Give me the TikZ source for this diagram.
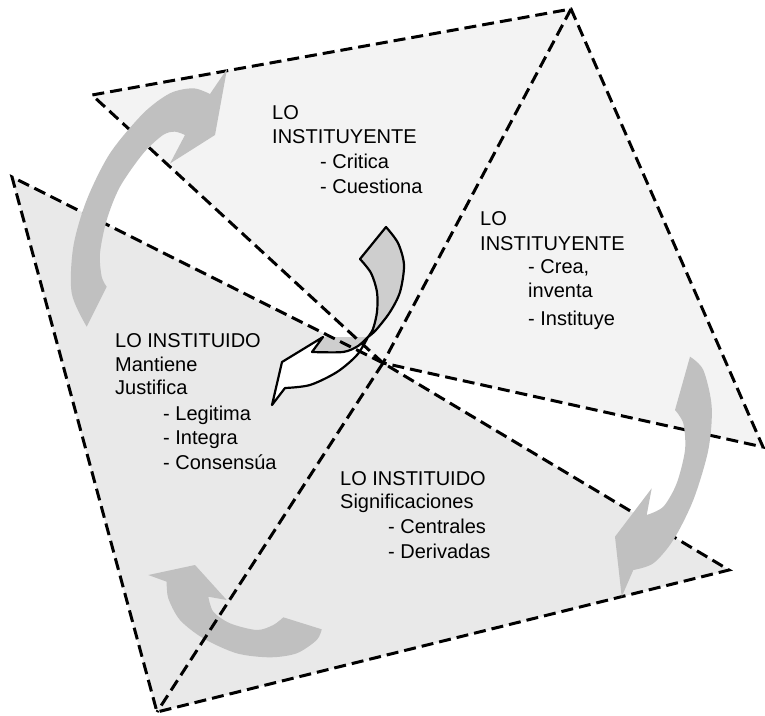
\documentclass[tikz,border=0pt]{standalone}
\usepackage{fontspec}
\setmainfont{Liberation Sans}
\definecolor{lightA}{RGB}{243,243,243}
\definecolor{lightC}{RGB}{233,233,233}
\definecolor{arrowgray}{RGB}{192,192,192}
\definecolor{cgray}{RGB}{206,206,206}
\begin{document}
\begin{tikzpicture}[x=1pt,y=-1pt,
  edge/.style={line width=3pt, dash pattern=on 12pt off 6pt},
  lbl/.style={anchor=base west, inner sep=0pt, font=\fontsize{20}{24}\selectfont},
  bigarrow/.style={fill=arrowgray},
  outl/.style={draw=black, line width=2.2pt, line join=round}
]
\useasboundingbox (0,0) rectangle (765,715);
% vertices
\coordinate (O) at (383,363);
\coordinate (A1) at (92,95);
\coordinate (Ap) at (571,9);
\coordinate (B1) at (763,447);
\coordinate (C1) at (12,177);
\coordinate (Db) at (157,712);
\coordinate (D1) at (729,570);
% fills
\fill[lightA] (A1) -- (Ap) -- (O) -- cycle;
\fill[lightA] (Ap) -- (B1) -- (O) -- cycle;
\fill[lightC] (C1) -- (O) -- (Db) -- cycle;
\fill[lightC] (O) -- (D1) -- (Db) -- cycle;
% bottom-left curved arrow (under the lines)
\fill[bigarrow] (148.3,575) -- (195,565) -- (226.7,600) -- (208.3,596.7)
  -- plot[smooth] coordinates {(208.3,596.7)(213.3,611.7)(230,623.3)(256.7,630)(273.3,625)(283.3,617.3)}
  -- (321.7,629.3)
  -- plot[smooth] coordinates {(321.7,629.3)(316.7,640)(296.7,653.3)(270,657.3)(236.7,653.3)(203.3,638.3)(180,620)(168.3,598.3)(166.7,581.7)}
  -- cycle;
% central arrow
\fill[cgray] (323,337) -- (312,352) -- (343,352) -- (360,345) -- (368,337) -- cycle;
\path[fill=cgray, outl] (386,227)
  -- plot[smooth] coordinates {(386,227)(398,243)(404,265)(400,292)(390,312)(376,330)(368,337)}
  -- plot[smooth] coordinates {(368,337)(373,329)(377,312)(377,292)(371,273)(360,259)}
  -- cycle;
\path[fill=white, outl] (282,362) -- (323,337) -- (312,352)
  -- plot[smooth] coordinates {(312,352)(343,352)(358,346)(368,337)}
  -- plot[smooth] coordinates {(368,337)(357,355)(337,372)(310,385)(285,388)}
  -- (272,405) -- cycle;
% dashed edges
\draw[edge] (O) -- (A1) -- (Ap) -- (B1) -- (O);
\draw[edge] (Ap) -- (O);
\draw[edge] (O) -- (C1) -- (Db) -- (D1) -- (O);
\draw[edge] (O) -- (Db);
% upper-left curved arrow
\fill[bigarrow] (86.7,326.7)
  -- plot[smooth] coordinates {(86.7,326.7)(71.7,293.3)(73.3,246.7)(86.7,200)(110,153.3)(143.3,113.3)(170,93.3)(193.3,88.3)(210,94)}
  -- (227,69) -- (215,135) -- (170,163.5) -- (185,135)
  -- plot[smooth] coordinates {(185,135)(175,131.7)(163,135)(143.3,153.3)(120,186.7)(106.7,220)(100,253.3)(101.7,276.7)(106.7,286.7)}
  -- cycle;
% right curved arrow
\fill[bigarrow] (690,356.7)
  -- plot[smooth] coordinates {(690,356.7)(703.3,370)(711.7,406.7)(708.3,450)(693.3,500)(673.3,540)(653.3,563.3)(633.3,570)}
  -- (621.7,596.7) -- (615,536.7) -- (651.7,488.3) -- (646.7,515)
  -- plot[smooth] coordinates {(646.7,515)(663.3,506.7)(676.7,483.3)(685,450)(683.3,423.3)(675,410)}
  -- cycle;
% texts
\node[lbl] (t1a) at (272,119) {LO};
\node[lbl] (t1b) at (272,143) {INSTITUYENTE};
\node[lbl] (t1c) at (320,168) {- Critica};
\node[lbl] (t1d) at (320,193) {- Cuestiona};
\node[lbl] (t2a) at (480,225) {LO};
\node[lbl] (t2b) at (480,250) {INSTITUYENTE};
\node[lbl] (t2c) at (528,273) {- Crea,};
\node[lbl] (t2d) at (528,297) {inventa};
\node[lbl] (t2e) at (528,325) {- Instituye};
\node[lbl] (t3a) at (115,347) {LO INSTITUIDO};
\node[lbl] (t3b) at (115,371) {Mantiene};
\node[lbl] (t3c) at (115,394) {Justifica};
\node[lbl] (t3d) at (163,420) {- Legitima};
\node[lbl] (t3e) at (163,444) {- Integra};
\node[lbl] (t3f) at (163,469) {- Consensúa};
\node[lbl] (t4a) at (340,485) {LO INSTITUIDO};
\node[lbl] (t4b) at (340,508) {Significaciones};
\node[lbl] (t4c) at (388,533) {- Centrales};
\node[lbl] (t4d) at (388,558) {- Derivadas};
\end{tikzpicture}
\end{document}
